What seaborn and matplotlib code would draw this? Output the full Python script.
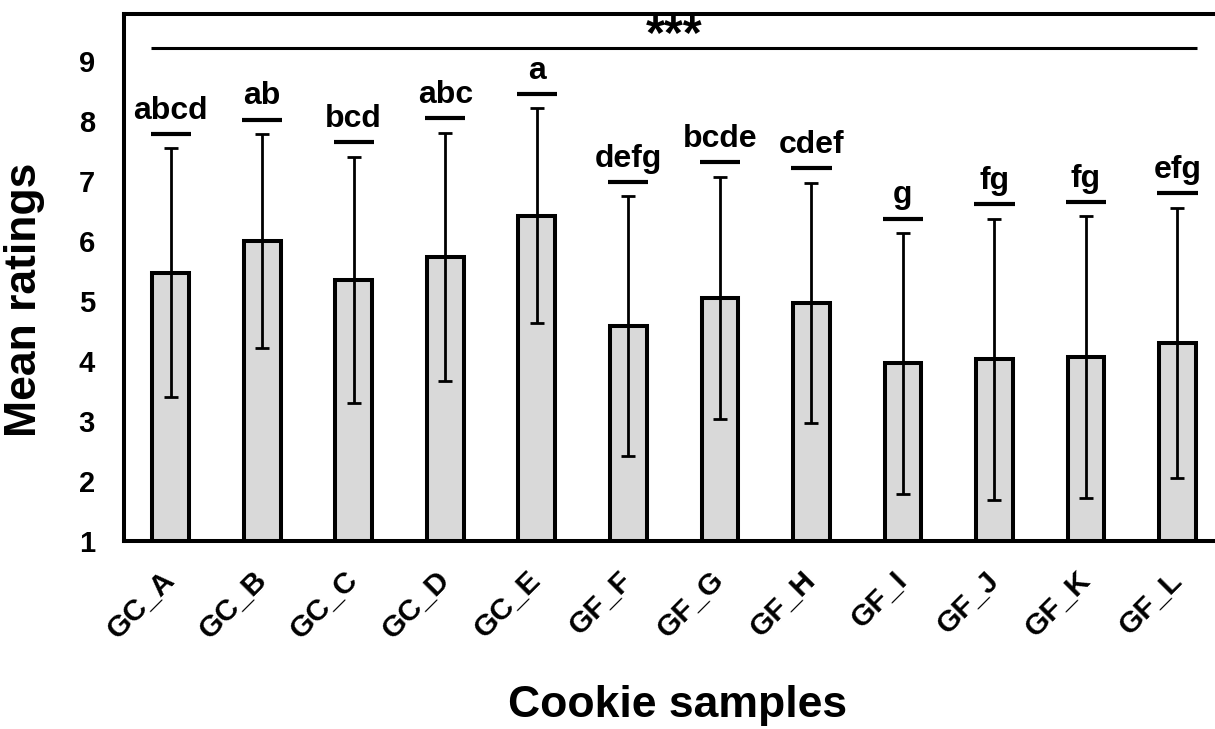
import matplotlib
matplotlib.use("Agg")
import matplotlib.pyplot as plt
import numpy as np
import pandas as pd
import seaborn as sns

# Sensory panel results: mean liking rating and standard deviation per cookie
samples = ["GC_A", "GC_B", "GC_C", "GC_D", "GC_E", "GF_F",
           "GF_G", "GF_H", "GF_I", "GF_J", "GF_K", "GF_L"]
means = [5.47, 6.00, 5.35, 5.73, 6.42, 4.58, 5.05, 4.97, 3.96, 4.03, 4.06, 4.30]
sds = [2.07, 1.78, 2.05, 2.07, 1.79, 2.16, 2.02, 2.00, 2.17, 2.34, 2.35, 2.25]
# Tukey grouping letters and overall significance
letters = ["abcd", "ab", "bcd", "abc", "a", "defg",
           "bcde", "cdef", "g", "fg", "fg", "efg"]
overall_sig = "***"
y_ticks = [1, 2, 3, 4, 5, 6, 7, 8, 9]

sns.set_theme(style="white")
plt.rcParams["font.family"] = ["Liberation Sans", "DejaVu Sans"]
plt.rcParams["font.weight"] = "bold"
plt.rcParams["text.color"] = "black"
plt.rcParams["xtick.color"] = "black"
plt.rcParams["ytick.color"] = "black"
plt.rcParams["axes.labelcolor"] = "black"

df = pd.DataFrame({"sample": samples, "mean": means, "sd": sds})

W, H = 1215, 729
fig = plt.figure(figsize=(W / 100, H / 100), dpi=100)
ax = fig.add_axes([124 / W, 1 - 541 / H, 1 - 124 / W, (541 - 14) / H])

sns.barplot(data=df, x="sample", y="mean", color="#d9d9d9", saturation=1,
            edgecolor="black", linewidth=2.9, width=0.40, errorbar=None,
            ax=ax, zorder=2)

xpos = np.arange(len(samples))
ax.errorbar(xpos, means, yerr=sds, fmt="none", ecolor="black",
            elinewidth=2.0, capsize=5, capthick=2.0, zorder=3)

# group letters above each error bar, with a short rule beneath them
gap = 0.24
tops = np.array(means) + np.array(sds) + gap
ax.hlines(tops, xpos - 0.22, xpos + 0.22, colors="black", linewidth=3, zorder=3)
for x, t, lab in zip(xpos, tops, letters):
    ax.annotate(lab, (x, t), xytext=(0, 11), textcoords="offset points",
                ha="center", va="baseline", fontsize=23, fontweight="bold",
                color="black")

# overall significance bracket
ax.hlines(9.21, -0.21, len(samples) - 1 + 0.21, colors="black", linewidth=2.2, zorder=3)
ax.text((len(samples) - 1) / 2, 9.22, overall_sig, ha="center", va="baseline",
        fontsize=35, fontweight="bold", color="black")

ax.set_xlim(-0.51, 11.41)
ax.set_ylim(1, 9.78)
ax.set_yticks(y_ticks)
ax.set_yticklabels([str(v) for v in y_ticks], fontsize=21, fontweight="bold",
                   color="black")
ax.tick_params(axis="y", length=0, pad=21, colors="black")
ax.tick_params(axis="x", length=0, pad=25, colors="black")
ax.set_xticks(xpos)
ax.set_xticklabels(samples, rotation=45, ha="right", va="center",
                   rotation_mode="anchor", fontsize=21.5, fontweight="bold",
                   color="black")

for side in ["left", "top", "bottom"]:
    ax.spines[side].set_visible(True)
    ax.spines[side].set_color("black")
    ax.spines[side].set_linewidth(2.9)
ax.spines["right"].set_visible(False)
ax.grid(False)

ax.set_ylabel("Mean ratings", fontsize=32, fontweight="bold", color="black")
ax.yaxis.label.set_verticalalignment("center")
ax.yaxis.set_label_coords((25 - 124) / (W - 124), (541 - 300) / 527)
ax.set_xlabel("Cookie samples", fontsize=32, fontweight="bold", color="black")
ax.xaxis.label.set_verticalalignment("center")
ax.xaxis.set_label_coords((677.5 - 124) / (W - 124), (541 - 706) / 527)

fig.savefig("out.png", dpi=100, facecolor="white")
